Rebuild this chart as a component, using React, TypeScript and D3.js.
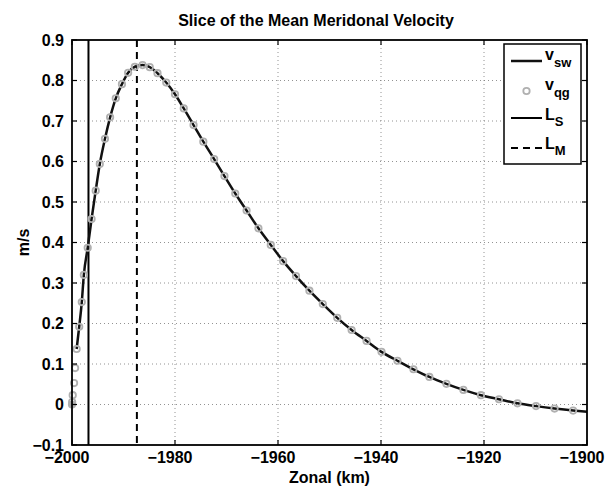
import React from 'react';
import * as d3 from 'd3';

// v_qg samples (zonal km, m/s)
const zonal = [
  -2000.0, -1999.97, -1999.86, -1999.6, -1999.4, -1999.1, -1998.6, -1998.1, -1997.7,
  -1996.95, -1996.2, -1995.4, -1994.6, -1993.6, -1992.6, -1991.5, -1990.3, -1989.1,
  -1987.8, -1986.3, -1984.9, -1983.4, -1981.7, -1980.0, -1978.3, -1976.4, -1974.5,
  -1972.4, -1970.4, -1968.3, -1966.1, -1963.8, -1961.4, -1959.0, -1956.5, -1953.9,
  -1951.3, -1948.5, -1945.7, -1942.8, -1939.9, -1936.8, -1933.7, -1930.6, -1927.3,
  -1924.0, -1920.6, -1917.1, -1913.5, -1909.9, -1906.3, -1902.7,
];
const vqg = [
  0.0, 0.006, 0.023, 0.053, 0.09, 0.137, 0.192, 0.253, 0.32,
  0.387, 0.458, 0.528, 0.594, 0.656, 0.709, 0.756, 0.791, 0.819,
  0.834, 0.838, 0.833, 0.818, 0.795, 0.766, 0.731, 0.69, 0.649,
  0.606, 0.564, 0.521, 0.479, 0.435, 0.394, 0.354, 0.317, 0.281,
  0.248, 0.214, 0.184, 0.157, 0.13, 0.108, 0.087, 0.068, 0.051,
  0.036, 0.023, 0.013, 0.003, -0.004, -0.01, -0.015,
];
// v_sw line
const zonalSW = [
  -1999.1, -1998.6, -1998.1, -1997.7, -1996.95, -1996.2, -1995.4, -1994.6, -1993.6,
  -1992.6, -1991.5, -1990.3, -1989.1, -1987.8, -1986.3, -1984.9, -1983.4, -1981.7,
  -1980.0, -1978.3, -1976.4, -1974.5, -1972.4, -1970.4, -1968.3, -1966.1, -1963.8,
  -1961.4, -1959.0, -1956.5, -1953.9, -1951.3, -1948.5, -1945.7, -1942.8, -1939.9,
  -1936.8, -1933.7, -1930.6, -1927.3, -1924.0, -1920.6, -1917.1, -1913.5, -1909.9,
  -1906.3, -1902.7, -1900.0,
];
const vsw = [
  0.137, 0.192, 0.253, 0.32, 0.387, 0.458, 0.528, 0.594, 0.656,
  0.709, 0.756, 0.791, 0.819, 0.834, 0.838, 0.833, 0.818, 0.795,
  0.766, 0.731, 0.69, 0.649, 0.606, 0.564, 0.521, 0.479, 0.435,
  0.394, 0.354, 0.317, 0.281, 0.248, 0.214, 0.184, 0.157, 0.13,
  0.108, 0.087, 0.068, 0.051, 0.036, 0.023, 0.013, 0.003, -0.004,
  -0.01, -0.015, -0.018,
];
const LS = [-1996.8];
const LM = [-1987.4];
const xTicks = [-2000, -1980, -1960, -1940, -1920, -1900];
const yTicks = [-0.1, 0, 0.1, 0.2, 0.3, 0.4, 0.5, 0.6, 0.7, 0.8, 0.9];

const W = 608, H = 491;
const L = 72, R = 587, T = 40, B = 445;
const FONT = '"Liberation Sans", Arial, Helvetica, sans-serif';

const fmt = (v: number) => {
  const s = Math.abs(v) < 1e-9 ? '0' : d3.format('.10~g')(+v.toFixed(6));
  return s.replace('-', '\u2212');
};

export default function App() {
  const x = d3.scaleLinear().domain([-2000, -1900]).range([L, R]);
  const y = d3.scaleLinear().domain([-0.1, 0.9]).range([B, T]);
  const line = d3.line<number>()
    .x((_, i) => x(zonalSW[i]))
    .y((d) => y(d))
    .curve(d3.curveMonotoneX);
  const tk = 5;
  const grey = '#b0b0b0';
  const fs = 16;

  const lgX = 504, lgY = 44, lgW = 77, lgH = 120;
  const sx0 = 511, sx1 = 542, tx = 545;

  return (
    <svg width={W} height={H} style={{ position: 'absolute', left: 0, top: 0, background: '#fff' }}
      fontFamily={FONT} fontWeight="bold">
      <rect x={0} y={0} width={W} height={H} fill="#fff" />
      {/* grid */}
      {xTicks.slice(1, -1).map((t) => (
        <line key={'gx' + t} x1={x(t)} x2={x(t)} y1={T} y2={B} stroke="#777" strokeWidth={0.8} strokeDasharray="1,3" />
      ))}
      {yTicks.slice(1, -1).map((t) => (
        <line key={'gy' + t} x1={L} x2={R} y1={y(t)} y2={y(t)} stroke="#777" strokeWidth={0.8} strokeDasharray="1,3" />
      ))}
      {/* vertical markers */}
      {LS.map((v) => (
        <line key={'ls' + v} x1={x(v)} x2={x(v)} y1={T} y2={B} stroke="#000" strokeWidth={2} />
      ))}
      {LM.map((v) => (
        <line key={'lm' + v} x1={x(v)} x2={x(v)} y1={T} y2={B} stroke="#000" strokeWidth={2} strokeDasharray="7,5" />
      ))}
      {/* v_sw */}
      <path d={line(vsw) || ''} fill="none" stroke="#111" strokeWidth={2.5} />
      {/* v_qg */}
      {vqg.map((v, i) => (
        <circle key={'c' + i} cx={x(zonal[i])} cy={y(v)} r={3.2} fill={i === 0 ? grey : 'none'} stroke={grey} strokeWidth={1.8} />
      ))}
      {/* frame */}
      <rect x={L} y={T} width={R - L} height={B - T} fill="none" stroke="#000" strokeWidth={1.8} />
      {/* ticks */}
      {xTicks.map((t) => (
        <g key={'xt' + t}>
          <line x1={x(t)} x2={x(t)} y1={B} y2={B - tk} stroke="#000" strokeWidth={1.2} />
          <line x1={x(t)} x2={x(t)} y1={T} y2={T + tk} stroke="#000" strokeWidth={1.2} />
          <text x={x(t) - 5} y={463} textAnchor="middle" fontSize={fs}>{fmt(t)}</text>
        </g>
      ))}
      {yTicks.map((t) => (
        <g key={'yt' + t}>
          <line x1={L} x2={L + tk} y1={y(t)} y2={y(t)} stroke="#000" strokeWidth={1.2} />
          <line x1={R} x2={R - tk} y1={y(t)} y2={y(t)} stroke="#000" strokeWidth={1.2} />
          <text x={L - 8} y={y(t) + 5.5} textAnchor="end" fontSize={fs}>{fmt(t)}</text>
        </g>
      ))}
      {/* labels */}
      <text x={316} y={26} textAnchor="middle" fontSize={16}>Slice of the Mean Meridonal Velocity</text>
      <text x={(L + R) / 2} y={483} textAnchor="middle" fontSize={fs}>Zonal (km)</text>
      <text transform={`translate(29,${(T + B) / 2}) rotate(-90)`} textAnchor="middle" fontSize={fs}>m/s</text>
      {/* legend */}
      <rect x={lgX} y={lgY} width={lgW} height={lgH} fill="#fff" stroke="#000" strokeWidth={1.5} />
      <line x1={sx0} x2={sx1} y1={61} y2={61} stroke="#111" strokeWidth={2.5} />
      <text x={tx} y={60} fontSize={16}>v<tspan dy={7} fontSize={13}>sw</tspan></text>
      <circle cx={(sx0 + sx1) / 2} cy={91} r={3.2} fill="none" stroke={grey} strokeWidth={1.8} />
      <text x={tx} y={90} fontSize={16}>v<tspan dy={7} fontSize={13}>qg</tspan></text>
      <line x1={sx0} x2={sx1} y1={118} y2={118} stroke="#000" strokeWidth={2} />
      <text x={tx} y={120} fontSize={16}>L<tspan dy={6} fontSize={13}>S</tspan></text>
      <line x1={sx0} x2={sx1} y1={148} y2={148} stroke="#000" strokeWidth={2} strokeDasharray="7,5" />
      <text x={tx} y={149} fontSize={16}>L<tspan dy={6} fontSize={13}>M</tspan></text>
    </svg>
  );
}
